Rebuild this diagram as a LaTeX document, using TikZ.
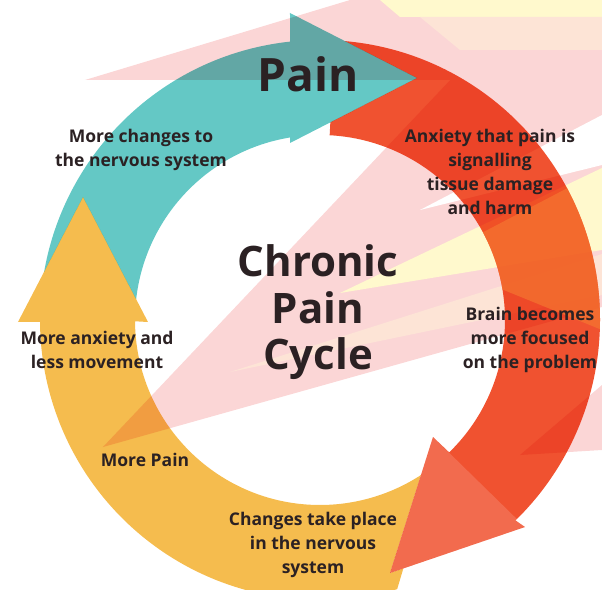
\documentclass[tikz,border=0pt]{standalone}
\usepackage{fontspec}
\setmainfont{Open Sans}
\usepackage{xcolor}
\usepackage{tikz}
\usetikzlibrary{positioning}
\definecolor{tealA}{RGB}{100,200,197}
\definecolor{redA}{RGB}{240,82,48}
\definecolor{orangeA}{RGB}{245,118,48}
\definecolor{yellowA}{RGB}{245,188,78}
\definecolor{pinkB}{RGB}{251,214,214}
\definecolor{yellowB}{RGB}{255,249,205}
\definecolor{peachB}{RGB}{253,228,214}
\definecolor{ink}{RGB}{43,33,35}
\tikzset{
	lbl/.style={text=ink,font=\fontsize{17.5}{24}\selectfont\bfseries,align=center,inner sep=0pt},
	big/.style={text=ink,font=\fontsize{42}{46.5}\selectfont\bfseries,align=center,inner sep=0pt},
	arrowfill/.style={blend mode=multiply}
}

\begin{document}
\begin{tikzpicture}[x=1pt,y=1pt]
	\def\Ro{280}
	\def\Ri{185}
\useasboundingbox (-320,-269) rectangle (282,320);

%Fond : eclair
\fill[pinkB] (-235,240) -- (30,320) -- (282,320) -- (282,240) -- cycle;
\fill[pinkB] (-217,-127) -- (206,320) -- (282,320) -- (282,13) -- cycle;
\fill[yellowB] (60,320) -- (282,320) -- (282,303) -- (80,303) -- cycle;
\fill[peachB] (100,303) -- (282,303) -- (282,270) -- (140,270) -- cycle;
\fill[white] (100,110) -- (282,205) -- (282,155) -- cycle;
\fill[yellowB] (20,27) -- (282,152) -- (282,70) -- cycle;
\fill[peachB] (-90,-52) -- (282,66) -- (282,25) -- cycle;
\fill[pinkB] (200,-135) -- (282,-65) -- (282,-130) -- cycle;

%Fleche jaune (sous la tete rouge)
\begin{scope}
\clip (-400,-400) -- (400,-400) -- (400,400) -- (-400,400) -- cycle
	(113,-117) -- (205,-207) -- (70,-253) -- cycle;
\fill[yellowA,arrowfill] (-74:\Ro) arc[start angle=-74,end angle=-179.6,radius=\Ro]
	-- (-302,-2) -- (-237,123) -- (-172,-2)
	-- (-179.6:\Ri) arc[start angle=-179.6,end angle=-52,radius=\Ri] -- cycle;
\end{scope}

%Fleche rouge (sous la tete bleue)
\begin{scope}
\clip (-400,-400) -- (400,-400) -- (400,400) -- (-400,400) -- cycle
	(-30,307) -- (97,242) -- (-30,177) -- cycle;
\fill[redA,arrowfill] (87:\Ro) arc[start angle=87,end angle=-45.7,radius=\Ro]
	-- (205,-207) -- (70,-253) -- (113,-117)
	-- (-45.7:\Ri) arc[start angle=-45.7,end angle=87,radius=\Ri] -- cycle;
\fill[white,opacity=0.15] (205,-207) -- (70,-253) -- (113,-117) -- cycle;
%reflet orange
\clip (87:\Ro) arc[start angle=87,end angle=-45.7,radius=\Ro]
	-- (-45.7:\Ri) arc[start angle=-45.7,end angle=87,radius=\Ri] -- cycle;
\fill[orangeA,opacity=0.7] (110,60) -- (282,150) -- (282,-10) -- cycle;
\end{scope}

%Fleche bleue (sous la tete jaune)
\begin{scope}
\clip (-400,-400) -- (400,-400) -- (400,400) -- (-400,400) -- cycle
	(-302,-2) -- (-237,123) -- (-172,-2) -- cycle;
\fill[tealA,arrowfill] (179:\Ro) arc[start angle=179,end angle=96.15,radius=\Ro]
	-- (-30,307) -- (97,242) -- (-30,177)
	-- (99.33:\Ri) arc[start angle=99.33,end angle=179,radius=\Ri] -- cycle;
\end{scope}

%Textes
\node[big,font=\fontsize{46}{50}\selectfont\bfseries] (pain) at (-12,246) {Pain};
\node[big] (cycle) at (-2,7.5) {Chronic\\Pain\\Cycle};
\node[lbl] (moreChanges) at (-179,170.5) {More changes to\\the nervous system};
\node[lbl] (anxiety) at (170,148.5) {Anxiety that pain is\\signalling\\tissue damage\\and harm};
\node[lbl] (brain) at (210,-19.5) {Brain becomes\\more focused\\on the problem};
\node[lbl] (changes) at (-7,-224.5) {Changes take place\\in the nervous\\system};
\node[lbl] (morePain) at (-175,-140) {More Pain};
\node[lbl] (moreAnxiety) at (-223,-30) {More anxiety and\\less movement};

\end{tikzpicture}
\end{document}
